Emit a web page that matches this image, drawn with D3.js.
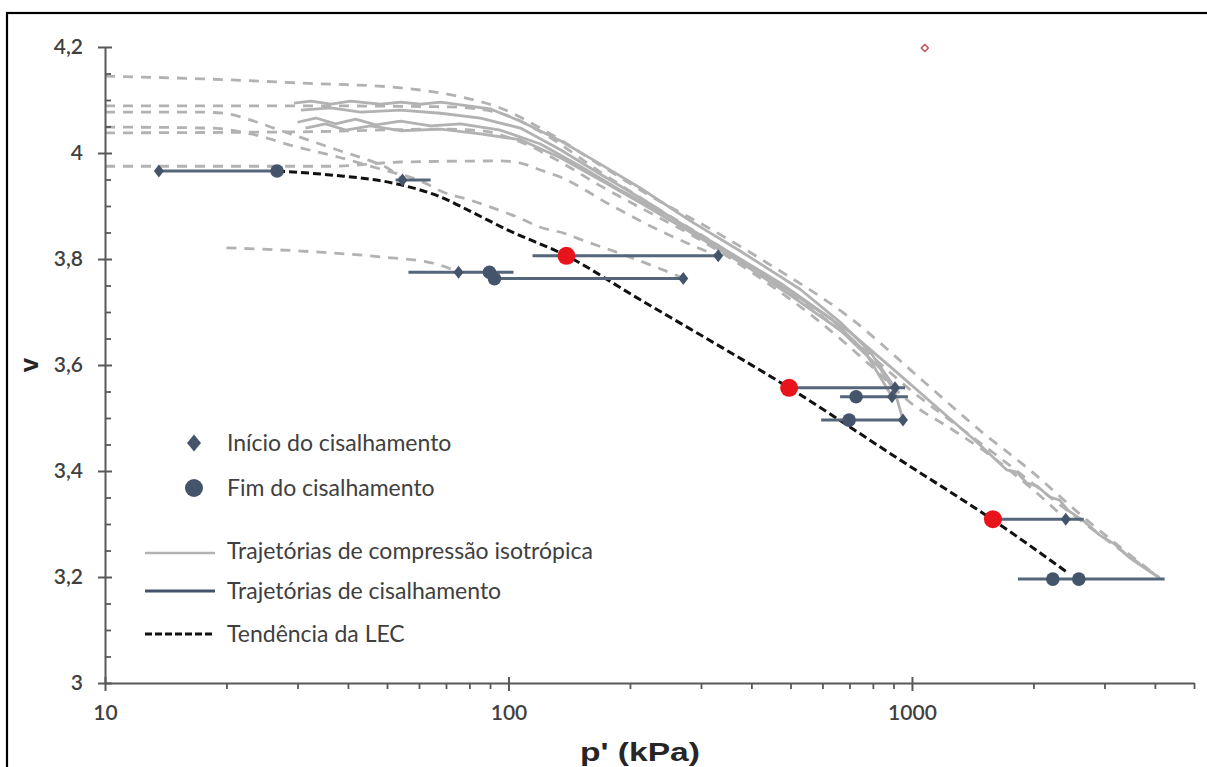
<!DOCTYPE html>
<html>
<head>
<meta charset="utf-8">
<script src="https://cdn.jsdelivr.net/npm/d3@7"></script>
<style>
  html, body { margin: 0; padding: 0; background: #ffffff; }
  svg { display: block; }
</style>
</head>
<body>
<svg id="chart" width="1207" height="767"></svg>
<script>
// ---------------- DATA ----------------
const xTickValues = [10, 100, 1000];
const xMinorTickValues = [20, 30, 40, 50, 60, 70, 80, 90, 200, 300, 400, 500, 600, 700, 800, 900, 2000, 3000, 4000, 5000];
const yTickValues = [3, 3.2, 3.4, 3.6, 3.8, 4, 4.2];
const yMinorTickValues = [3.05, 3.1, 3.15, 3.25, 3.3, 3.35, 3.45, 3.5, 3.55, 3.65, 3.7, 3.75, 3.85, 3.9, 3.95, 4.05, 4.1, 4.15];

// Isotropic compression paths (dashed grey) [p', v]
const isoDashedA = [[10,4.145],[17.3,4.140],[30.6,4.132],[54.0,4.123],[76.1,4.106],[95.5,4.085],[120.0,4.047],[169.0,3.977],[224.6,3.919],[316.2,3.857],[445.3,3.789],[702.4,3.689],[1046.6,3.575],[1499,3.472],[1959,3.402],[2605,3.319],[3273,3.257],[4111,3.198]];
const isoDashedB = [[10,4.089],[28.9,4.089],[71.8,4.087],[95.5,4.075],[120.0,4.040],[169.0,3.964],[237.8,3.892],[334.8,3.823],[471.3,3.747],[702.4,3.651],[1006,3.549],[1368,3.472],[1778,3.406],[2196,3.351],[3038,3.270],[4111,3.198]];
const isoDashedC = [[10,4.077],[17.3,4.077],[19.7,4.075],[23.0,4.062],[26.2,4.047],[32.9,4.021],[39.0,4.002],[44.8,3.987],[51.0,3.968],[54.6,3.949]];
const isoDashedD = [[10,4.049],[18.3,4.047],[23.0,4.036],[29.4,4.013],[38.4,3.991],[49.0,3.968],[60.6,3.947],[69.0,3.926],[80.5,3.911],[91.8,3.896],[105.3,3.879],[120.0,3.860],[136.8,3.849],[156.9,3.832],[178.9,3.817],[224.6,3.789],[271.1,3.764]];
const isoDashedE = [[10,3.975],[23.0,3.975],[36.3,3.975],[54.0,3.983],[95.5,3.985],[107.1,3.981],[120.0,3.968],[136.0,3.953],[178.9,3.902],[237.8,3.853],[329.1,3.806]];
const isoDashedF = [[20.0,3.821],[30.6,3.815],[48.2,3.804],[65.2,3.792],[75.2,3.775]];
const isoDashedG = [[10,4.038],[30.6,4.040],[67.9,4.045],[85.2,4.042],[107.1,4.021],[134.5,3.983],[169.0,3.938],[224.6,3.887],[298.7,3.836],[420.6,3.764],[592.0,3.681],[787.0,3.600],[1006,3.525],[1242,3.481],[1560,3.430],[1959,3.370],[2405,3.309]];

// Isotropic compression paths (solid grey) [p', v]
const isoSolidA = [[29.4,4.094],[32.4,4.098],[36.3,4.092],[40.6,4.098],[48.2,4.092],[54.0,4.096],[60.6,4.092],[67.9,4.096],[76.1,4.091],[90.3,4.083],[107.1,4.060],[134.5,4.023],[169.0,3.979],[212.2,3.934],[282.1,3.872],[375.2,3.815],[528.2,3.743],[663.5,3.681],[787.0,3.625],[907.8,3.557]];
const isoSolidB = [[30.0,4.058],[33.3,4.066],[37.3,4.055],[41.8,4.064],[46.9,4.053],[54.0,4.060],[64.1,4.051],[76.1,4.055],[95.5,4.043],[120.0,4.017],[150.7,3.975],[189.3,3.930],[251.8,3.879],[334.8,3.823],[471.3,3.755],[626.6,3.689],[765.0,3.625],[892.4,3.540]];
const isoSolidC = [[31.4,4.047],[35.2,4.055],[39.5,4.043],[45.5,4.051],[54.0,4.042],[67.9,4.045],[85.2,4.036],[107.1,4.025],[134.5,3.991],[169.0,3.949],[212.2,3.906],[282.1,3.851],[375.2,3.794],[498.9,3.732],[663.5,3.666],[833.4,3.594],[907.8,3.549],[950.2,3.496]];
const isoSolidD = [[30.6,4.081],[36.3,4.085],[43.0,4.077],[54.0,4.081],[67.9,4.075],[85.2,4.066],[107.1,4.047],[134.5,4.006],[169.0,3.960],[224.6,3.904],[298.7,3.843],[397.2,3.787],[528.2,3.726],[702.4,3.662],[934.0,3.581],[1173,3.515],[1432,3.458],[1718,3.402],[1819,3.398],[1926,3.377],[2039,3.372],[2196,3.351],[2324,3.345],[2433,3.326],[2681,3.304],[2919,3.279],[3181,3.262],[3465,3.236],[3773,3.217],[4111,3.198]];

// Shearing paths: [p' start, p' end, v]
const shearPaths = [[13.6,26.7,3.966],[52.5,64.1,3.949],[114.7,331,3.806],[56.5,102.9,3.775],[92.3,271.1,3.763],[496,961,3.557],[663.5,977,3.540],[595.5,950,3.496],[1587,2665,3.309],[1830,4229,3.196]];
// Start of shearing (diamonds)
const shearStart = [[13.6,3.966],[54.6,3.949],[331,3.806],[75.2,3.775],[271.1,3.763],[907.8,3.557],[892.4,3.540],[950,3.496],[2405,3.309]];
// End of shearing (circles)
const shearEnd = [[26.7,3.966],[89.7,3.775],[92.3,3.763],[726.8,3.540],[698.5,3.496],[2234,3.196],[2591,3.196]];
// Critical-state points (red)
const csPoints = [[139.2,3.806],[496.1,3.557],[1587,3.309]];
// Isolated hollow marker at top
const strayPoint = [[1076,4.198]];
// LEC trend (black dashed)
const lecTrend = [[26.7,3.966],[36.9,3.958],[51.9,3.943],[67.9,3.917],[81.9,3.887],[99.4,3.855],[139.2,3.806],[212.2,3.723],[298.7,3.657],[496.1,3.557],[934,3.421],[1578,3.309],[2433,3.208]];

const legendLabels = ["Início do cisalhamento", "Fim do cisalhamento", "Trajetórias de compressão isotrópica", "Trajetórias de cisalhamento", "Tendência da LEC"];
const xTitle = "p' (kPa)";
const yTitle = "v";

// ---------------- DRAWING ----------------
const svg = d3.select("#chart");
const NAVY = "#44546a";
const SHEAR = "#56667a";
const GREY = "#b2b2b2";
const TXT = "#404040";
const FONT = "Lato, 'Open Sans', sans-serif";

const x = d3.scaleLog().domain([10, 5000]).range([105, 1194]);
const y = d3.scaleLinear().domain([3, 4.2]).range([683, 47]);

// frame (only top and left visible in reference)
svg.append("rect").attr("x", 7).attr("y", 13).attr("width", 1220).attr("height", 800)
  .attr("fill", "none").attr("stroke", "#000").attr("stroke-width", 2.2);

const line = d3.line().x(d => x(d[0])).y(d => y(d[1])).curve(d3.curveMonotoneX);
const lineLin = d3.line().x(d => x(d[0])).y(d => y(d[1]));

const plot = svg.append("g");

// dashed compression
[isoDashedA, isoDashedB, isoDashedC, isoDashedD, isoDashedE, isoDashedF, isoDashedG].forEach(arr => {
  plot.append("path").attr("d", line(arr)).attr("fill", "none")
    .attr("stroke", GREY).attr("stroke-width", 2.8).attr("stroke-dasharray", "10,8");
});
// solid compression
[isoSolidA, isoSolidB, isoSolidC, isoSolidD].forEach(arr => {
  plot.append("path").attr("d", lineLin(arr)).attr("fill", "none")
    .attr("stroke", GREY).attr("stroke-width", 2.8).attr("stroke-linejoin", "round");
});

// LEC trend
plot.append("path").attr("d", line(lecTrend)).attr("fill", "none")
  .attr("stroke", "#111").attr("stroke-width", 3).attr("stroke-dasharray", "8,4");

// shearing paths
plot.selectAll("line.shear").data(shearPaths).enter().append("line")
  .attr("x1", d => x(d[0])).attr("x2", d => x(d[1]))
  .attr("y1", d => y(d[2])).attr("y2", d => y(d[2]))
  .attr("stroke", SHEAR).attr("stroke-width", 3);

// diamonds
const diamond = (cx, cy, w, h) => `M${cx},${cy - h}L${cx + w},${cy}L${cx},${cy + h}L${cx - w},${cy}Z`;
plot.selectAll("path.start").data(shearStart).enter().append("path")
  .attr("d", d => diamond(x(d[0]), y(d[1]), 5, 6.5)).attr("fill", NAVY);

// circles
plot.selectAll("circle.end").data(shearEnd).enter().append("circle")
  .attr("cx", d => x(d[0])).attr("cy", d => y(d[1])).attr("r", 6.8).attr("fill", NAVY);

// red points
plot.selectAll("circle.cs").data(csPoints).enter().append("circle")
  .attr("cx", d => x(d[0])).attr("cy", d => y(d[1])).attr("r", 9).attr("fill", "#e8141c");

// stray hollow diamond
plot.selectAll("path.stray").data(strayPoint).enter().append("path")
  .attr("d", d => diamond(x(d[0]), y(d[1]), 3.5, 3.5)).attr("fill", "#fff")
  .attr("stroke", "#c0504d").attr("stroke-width", 1.5);

// ---- axes ----
const axisColor = "#595959";
const yAxis = svg.append("g").attr("transform", `translate(${x(10)},0)`)
  .call(d3.axisLeft(y).tickValues(yTickValues).tickSize(7).tickSizeOuter(0)
    .tickFormat(d => String(+d.toFixed(1)).replace(".", ",")));
yAxis.selectAll(".tick line").attr("x1", 7).attr("stroke", axisColor).attr("stroke-width", 2);
yAxis.select(".domain").attr("stroke", axisColor).attr("stroke-width", 2);
yAxis.selectAll(".tick text").attr("x", -22).attr("font-size", 21).attr("font-family", FONT)
  .attr("fill", TXT).attr("font-weight", 600);

const yMinor = svg.append("g").attr("transform", `translate(${x(10)},0)`)
  .call(d3.axisRight(y).tickValues(yMinorTickValues).tickSize(6).tickSizeOuter(0).tickFormat(""));
yMinor.select(".domain").remove();
yMinor.selectAll(".tick line").attr("stroke", axisColor).attr("stroke-width", 1.8);

const xAxis = svg.append("g").attr("transform", `translate(0,${y(3)})`)
  .call(d3.axisBottom(x).tickValues(xTickValues).tickSize(8).tickSizeOuter(0).tickFormat(d3.format("d")));
xAxis.selectAll(".tick line").attr("y1", -6).attr("stroke", axisColor).attr("stroke-width", 2);
xAxis.select(".domain").attr("stroke", axisColor).attr("stroke-width", 2);
xAxis.selectAll(".tick text").attr("y", 22).attr("font-size", 21).attr("font-family", FONT)
  .attr("fill", TXT).attr("font-weight", 600);

const xMinor = svg.append("g").attr("transform", `translate(0,${y(3)})`)
  .call(d3.axisBottom(x).tickValues(xMinorTickValues).tickSize(6).tickSizeOuter(0).tickFormat(""));
xMinor.select(".domain").remove();
xMinor.selectAll(".tick line").attr("stroke", axisColor).attr("stroke-width", 1.8);

// axis titles
svg.append("text").attr("x", 640).attr("y", 761).attr("text-anchor", "middle")
  .attr("font-family", "'Liberation Sans', Arial, sans-serif").attr("font-weight", "bold")
  .attr("font-size", 26).attr("textLength", 120).attr("lengthAdjust", "spacingAndGlyphs")
  .attr("fill", "#262626").text(xTitle);
svg.append("text").attr("transform", "translate(38,365) rotate(-90)").attr("text-anchor", "middle")
  .attr("font-family", "'Liberation Sans', Arial, sans-serif").attr("font-weight", "bold")
  .attr("font-size", 26).attr("fill", "#262626").text(yTitle);

// ---- legend ----
const lg = svg.append("g");
const lgX = 227;
const lgY = [443, 488, 551, 591, 634];
lg.append("path").attr("d", diamond(194, lgY[0], 7, 8.5)).attr("fill", NAVY);
lg.append("circle").attr("cx", 194).attr("cy", lgY[1]).attr("r", 9).attr("fill", NAVY);
lg.append("line").attr("x1", 145).attr("x2", 215).attr("y1", lgY[2] + 2).attr("y2", lgY[2] + 2)
  .attr("stroke", GREY).attr("stroke-width", 2.5);
lg.append("line").attr("x1", 145).attr("x2", 215).attr("y1", lgY[3]).attr("y2", lgY[3])
  .attr("stroke", NAVY).attr("stroke-width", 3);
lg.append("line").attr("x1", 145).attr("x2", 215).attr("y1", lgY[4]).attr("y2", lgY[4])
  .attr("stroke", "#111").attr("stroke-width", 3).attr("stroke-dasharray", "7,3");
lg.selectAll("text").data(legendLabels).enter().append("text")
  .attr("x", lgX).attr("y", (d, i) => lgY[i]).attr("dy", "0.35em")
  .attr("font-family", FONT).attr("font-size", 23).attr("fill", TXT).text(d => d);
</script>
</body>
</html>
